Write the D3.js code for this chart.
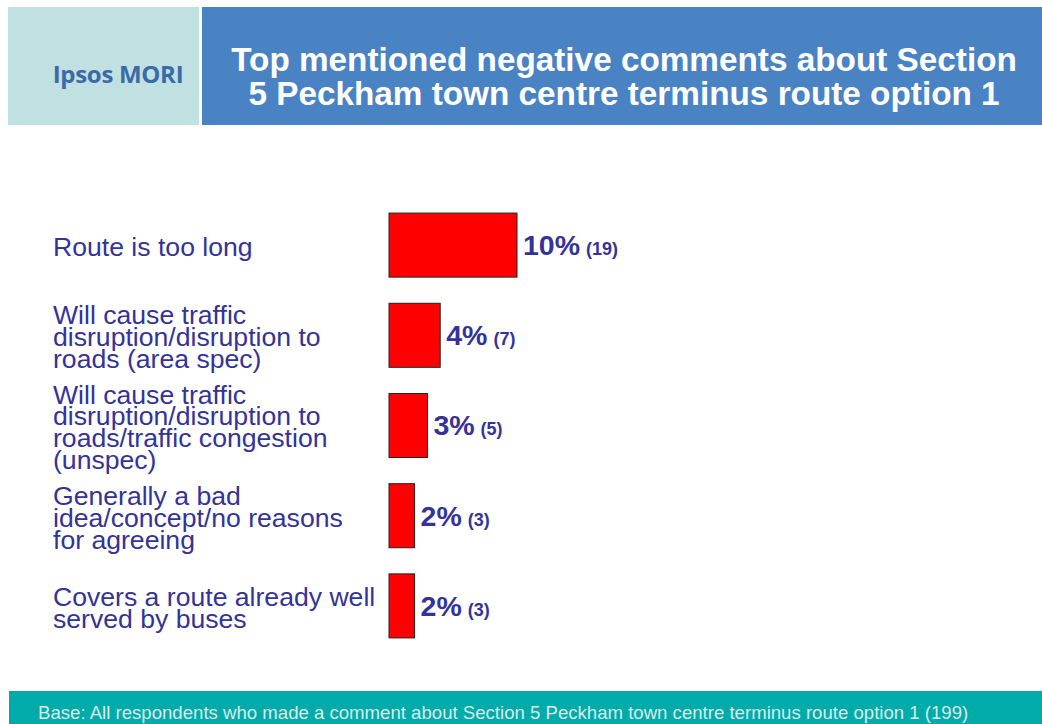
<!DOCTYPE html>
<html>
<head>
<meta charset="utf-8">
<script src="https://cdn.jsdelivr.net/npm/d3@7"></script>
<style>
	body { margin: 0; background: #fff; }
	svg { display: block; font-family: "Liberation Sans", Arial, sans-serif; }
</style>
</head>
<body>
<svg id="chart" width="1042" height="724"></svg>
<script>
// data
const categories = [
	['Route is too long'],
	['Will cause traffic', 'disruption/disruption to', 'roads (area spec)'],
	['Will cause traffic', 'disruption/disruption to', 'roads/traffic congestion', '(unspec)'],
	['Generally a bad', 'idea/concept/no reasons', 'for agreeing'],
	['Covers a route already well', 'served by buses']
];
const percents = [10, 4, 3, 2, 2];
const counts = [19, 7, 5, 3, 3];
const titleLines = ['Top mentioned negative comments about Section', '5 Peckham town centre terminus route option 1'];
const baseText = 'Base: All respondents who made a comment about Section 5 Peckham town centre terminus route option 1 (199)';

const data = categories.map((c, i) => ({ label: c, pct: percents[i], n: counts[i] }));

const svg = d3.select('#chart');
const navy = '#333399';

// header
svg.append('rect')
	.attr('x', 8).attr('y', 7).attr('width', 191).attr('height', 118)
	.attr('fill', '#c0e0e2');
svg.append('text')
	.attr('x', 118).attr('y', 83)
	.attr('text-anchor', 'middle')
	.attr('fill', '#3a6aaa')
	.attr('font-family', '"Open Sans", sans-serif')
	.attr('font-weight', 'bold')
	.attr('font-size', 24)
	.attr('letter-spacing', -0.3)
	.text('Ipsos MORI');

svg.append('rect')
	.attr('x', 202).attr('y', 7).attr('width', 840).attr('height', 118)
	.attr('fill', '#4a83c4');
svg.append('text')
	.attr('text-anchor', 'middle')
	.attr('fill', '#fff')
	.attr('font-weight', 'bold')
	.attr('font-size', 33.3)
	.selectAll('tspan')
	.data(titleLines)
	.enter()
	.append('tspan')
	.attr('x', 624)
	.attr('y', (d, i) => 71 + i * 34)
	.text(d => d);

// bars
const x = d3.scaleLinear()
	.domain([0, 10])
	.range([0, 128]);

const y = d3.scaleBand()
	.domain(d3.range(data.length))
	.range([200, 651])
	.paddingInner(0.29)
	.paddingOuter(0.145);

const x0 = 389;

const rows = svg.selectAll('g.row')
	.data(data)
	.enter()
	.append('g')
	.attr('class', 'row')
	.attr('transform', (d, i) => `translate(0, ${y(i)})`);

rows.append('rect')
	.attr('x', x0)
	.attr('width', d => x(d.pct))
	.attr('height', y.bandwidth())
	.attr('fill', '#ff0000')
	.attr('stroke', '#222')
	.attr('stroke-width', 1);

const val = rows.append('text')
	.attr('x', d => x0 + x(d.pct) + 6)
	.attr('y', y.bandwidth() / 2 + 10)
	.attr('fill', navy)
	.attr('font-weight', 'bold');
val.append('tspan')
	.attr('font-size', 28.5)
	.text(d => `${d.pct}%`);
val.append('tspan')
	.attr('font-size', 18)
	.attr('dx', 6)
	.text(d => `(${d.n})`);

// category labels
const lineH = 22;
rows.append('text')
	.attr('fill', navy)
	.attr('font-size', 26.6)
	.each(function (d) {
		const t = d3.select(this);
		const top = y.bandwidth() / 2 - (d.label.length - 1) * lineH / 2 + 11;
		d.label.forEach((line, j) => {
			t.append('tspan')
				.attr('x', 53)
				.attr('y', top + j * lineH)
				.text(line);
		});
	});

// footer
svg.append('rect')
	.attr('x', 9).attr('y', 691).attr('width', 1033).attr('height', 33)
	.attr('fill', '#00aba9');
svg.append('text')
	.attr('x', 38).attr('y', 719)
	.attr('fill', '#d8ecec')
	.attr('font-size', 18.6)
	.text(baseText);
</script>
</body>
</html>
